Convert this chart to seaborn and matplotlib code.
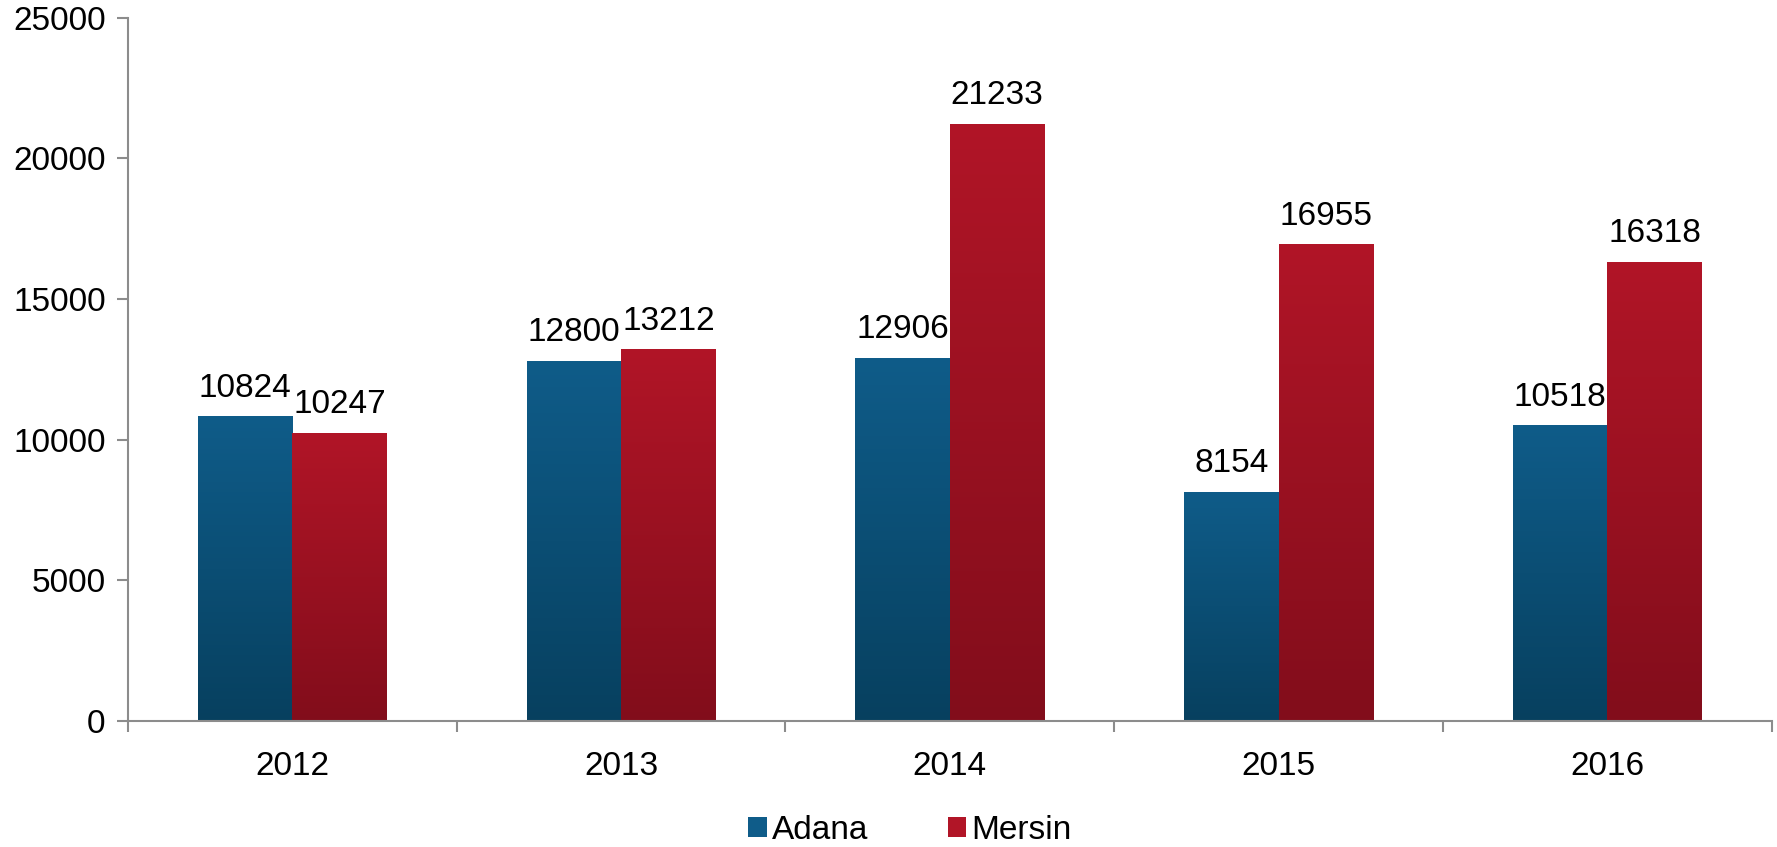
import numpy as np
import pandas as pd
import matplotlib
matplotlib.use("Agg")
import matplotlib.pyplot as plt
import seaborn as sns
from matplotlib.colors import LinearSegmentedColormap
from matplotlib.patches import Patch

# 数据
years = ["2012", "2013", "2014", "2015", "2016"]
adana = [10824, 12800, 12906, 8154, 10518]
mersin = [10247, 13212, 21233, 16955, 16318]
cities = ["Adana", "Mersin"]

df = pd.DataFrame({
    "year": years * 2,
    "value": adana + mersin,
    "city": ["Adana"] * len(years) + ["Mersin"] * len(years),
})

# 渐变色：上浅下深
grad = {
    "Adana": ("#0F5C89", "#07405F"),
    "Mersin": ("#B11527", "#820D1B"),
}

sns.set_style("white")
plt.rcParams["font.family"] = ["Liberation Sans", "DejaVu Sans"]
plt.rcParams["text.color"] = "black"
plt.rcParams["xtick.color"] = "black"
plt.rcParams["ytick.color"] = "black"

fig = plt.figure(figsize=(17.77, 8.47), dpi=100)
ax = fig.add_axes([0.072, 0.149, 0.925, 0.83])

sns.barplot(data=df, x="year", y="value", hue="city", hue_order=cities,
            palette={c: grad[c][0] for c in cities}, width=0.575, gap=0,
            ax=ax, legend=False, saturation=1)

# 每根柱子加竖直渐变
for cont, city in zip(ax.containers, cities):
    cmap = LinearSegmentedColormap.from_list(city, [grad[city][1], grad[city][0]])
    for p in cont.patches:
        x0, y0 = p.get_x(), p.get_y()
        w, h = p.get_width(), p.get_height()
        img = ax.imshow(np.linspace(0, 1, 256).reshape(-1, 1), cmap=cmap,
                        extent=[x0, x0 + w, y0, y0 + h], origin="lower",
                        aspect="auto", zorder=p.get_zorder() + 0.1)
        img.set_clip_path(p)
        p.set_edgecolor("none")
    ax.bar_label(cont, fmt="%d", padding=9, fontsize=24, color="black")

ax.set_xlim(-0.5, 4.5)
ax.set_ylim(0, 25000)
ax.set_yticks(range(0, 25001, 5000))
ax.set_xlabel("")
ax.set_ylabel("")

for s in ["top", "right"]:
    ax.spines[s].set_visible(False)
for s in ["left", "bottom"]:
    ax.spines[s].set_color("#8c8c8c")
    ax.spines[s].set_linewidth(1.5)

ax.tick_params(axis="y", which="major", direction="out", length=8, width=1.5,
               color="#8c8c8c", labelcolor="black", labelsize=24, pad=8, left=True)
ax.tick_params(axis="x", which="major", length=0, labelsize=24,
               labelcolor="black", pad=22)
ax.set_xticks(np.arange(-0.5, 5, 1), minor=True)
ax.tick_params(axis="x", which="minor", direction="out", length=8, width=1.5,
               color="#8c8c8c", bottom=True)

handles = [Patch(facecolor=grad[c][0], edgecolor="none") for c in cities]
fig.legend(handles, cities, loc="lower center", bbox_to_anchor=(0.512, -0.034),
           ncol=2, frameon=False, fontsize=24, handlelength=0.55,
           handleheight=0.55, handletextpad=0.15, columnspacing=2.4)

fig.savefig("out.png", dpi=100)
